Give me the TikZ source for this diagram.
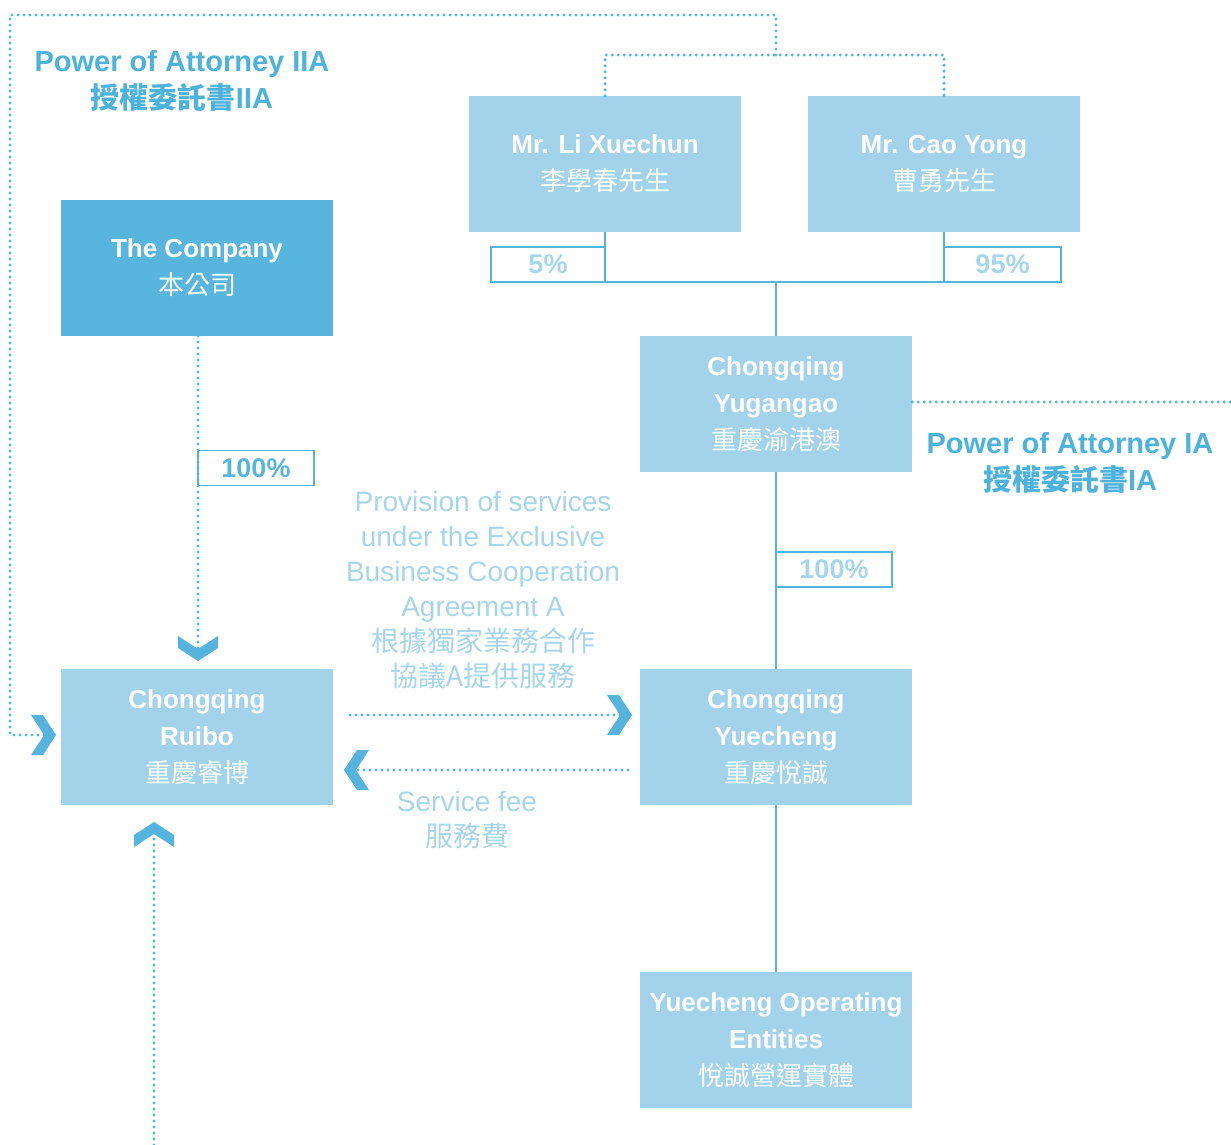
\documentclass[tikz,border=0pt]{standalone}
\usepackage{fontspec}
\setmainfont{Liberation Sans}
\newfontfamily\cjk{Noto Sans CJK TC}
\definecolor{boxc}{HTML}{A3D3EA}
\definecolor{darkc}{HTML}{58B6DE}
\definecolor{linec}{HTML}{55B4DE}
\definecolor{poac}{HTML}{4DB2DC}
\definecolor{softc}{HTML}{A6D6EC}
\begin{document}
\begin{tikzpicture}[x=1pt,y=-1pt,
  box/.style={rectangle, fill=boxc, minimum width=272pt, minimum height=136pt, inner sep=0pt, text=white, align=center, font=\bfseries\fontsize{26}{37}\selectfont},
  pct/.style={rectangle, draw=linec, line width=1.5pt, fill=white, minimum height=35pt, inner sep=0pt, font=\bfseries\fontsize{27}{30}\selectfont},
  solidline/.style={draw=linec, line width=2.5pt},
  dotline/.style={draw=linec, line width=3.4pt, line cap=round, dash pattern=on 0pt off 6pt},
  chev/.pic={\fill[linec] (-25,-20)--(-13,-20)--(0,0)--(-13,20)--(-25,20)--(-12,0)--cycle;},
  lbl/.style={text=poac, align=center, font=\bfseries\fontsize{29}{37}\selectfont},
  soft/.style={text=softc, align=center, font=\fontsize{28}{35}\selectfont}]
\useasboundingbox (0,0) rectangle (1231,1145);
\fill[white] (0,0) rectangle (1231,1145);

% boxes
\node[box] (li) at (605,164) {Mr. Li Xuechun\\{\cjk\mdseries 李學春先生}};
\node[box] (cao) at (944,164) {Mr. Cao Yong\\{\cjk\mdseries 曹勇先生}};
\node[box, fill=darkc] (comp) at (197,268) {The Company\\{\cjk\mdseries 本公司}};
\node[box] (yug) at (776,404) {Chongqing\\Yugangao\\{\cjk\mdseries 重慶渝港澳}};
\node[box] (ruibo) at (197,737) {Chongqing\\Ruibo\\{\cjk\mdseries 重慶睿博}};
\node[box] (yue) at (776,737) {Chongqing\\Yuecheng\\{\cjk\mdseries 重慶悅誠}};
\node[box] (ops) at (776,1040) {Yuecheng Operating\\Entities\\{\cjk\mdseries 悅誠營運實體}};

% percentage boxes
\node[pct, minimum width=114pt, text=softc] (p5) at (548,264.5) {5\%};
\node[pct, minimum width=117pt, text=softc] (p95) at (1002.5,264.5) {95\%};
\node[pct, minimum width=116pt, text=darkc] (p100a) at (256,468) {100\%};
\node[pct, minimum width=116pt, text=softc] (p100b) at (834,569.5) {100\%};

% labels
\node[lbl] (poa2) at (182,81) {Power of Attorney IIA\\{\cjk 授權委託書}IIA};
\node[lbl] (poa1) at (1070,463) {Power of Attorney IA\\{\cjk 授權委託書}IA};
\node[soft] (prov) at (483,590) {Provision of services\\under the Exclusive\\Business Cooperation\\Agreement A\\{\cjk 根據獨家業務合作}\\{\cjk 協議A提供服務}};
\node[soft] (fee) at (467,820) {Service fee\\{\cjk 服務費}};

% solid ownership lines
\coordinate (j) at (776,282);
\draw[solidline] (li.south) |- (j) -| (cao.south);
\draw[solidline] (j) -- (yug.north);
\draw[solidline] (yug.south) -- (yue.north);
\draw[solidline] (yue.south) -- (ops.north);

% dotted lines
\coordinate (tm) at (776,55);
\coordinate (tt) at (776,15);
\coordinate (tl) at (10,15);
\coordinate (la) at (46,735);
\draw[dotline] (li.north) |- (tm) -| (cao.north);
\draw[dotline] (tm) -- (tt) -- (tl) |- (la);
\pic at (56,735) {chev};

\coordinate (ca) at (198,336);
\coordinate (cb) at (198,651);
\draw[dotline] (ca) -- (cb);
\pic[rotate=-90] at (198,661) {chev};

\coordinate (ba) at (154,1145);
\coordinate (bb) at (154,832);
\draw[dotline] (ba) -- (bb);
\pic[rotate=90] at (154,822) {chev};

\coordinate (a1) at (350,715);
\coordinate (a2) at (622,715);
\draw[dotline] (a1) -- (a2);
\pic at (632,715) {chev};

\coordinate (b1) at (628,770);
\coordinate (b2) at (354,770);
\draw[dotline] (b1) -- (b2);
\pic[rotate=180] at (344,770) {chev};

\coordinate (ye) at (1231,402);
\draw[dotline] (yug.east |- ye) -- (ye);
\end{tikzpicture}
\end{document}
